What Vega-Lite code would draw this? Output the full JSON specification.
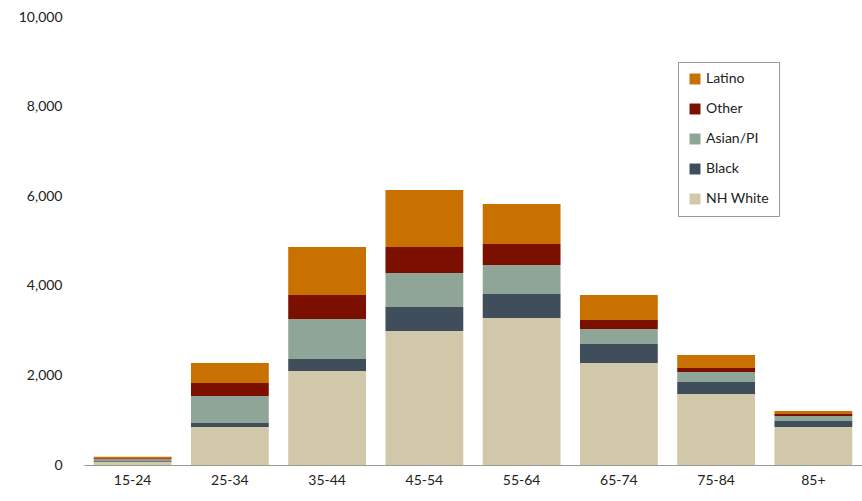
{
  "$schema": "https://vega.github.io/schema/vega-lite/v6.json",
  "width": 778,
  "height": 448,
  "padding": {"left": 18, "top": 10, "right": 8, "bottom": 5},
  "config": {"view": {"stroke": null}, "font": "Lato"},
  "data": {"values": [
    {"age":"15-24","g":"NH White","o":1,"v":70},{"age":"15-24","g":"Black","o":2,"v":20},{"age":"15-24","g":"Asian/PI","o":3,"v":40},{"age":"15-24","g":"Other","o":4,"v":20},{"age":"15-24","g":"Latino","o":5,"v":35},
    {"age":"25-34","g":"NH White","o":1,"v":848},{"age":"25-34","g":"Black","o":2,"v":90},{"age":"25-34","g":"Asian/PI","o":3,"v":600},{"age":"25-34","g":"Other","o":4,"v":290},{"age":"25-34","g":"Latino","o":5,"v":450},
    {"age":"35-44","g":"NH White","o":1,"v":2098},{"age":"35-44","g":"Black","o":2,"v":268},{"age":"35-44","g":"Asian/PI","o":3,"v":893},{"age":"35-44","g":"Other","o":4,"v":536},{"age":"35-44","g":"Latino","o":5,"v":1071},
    {"age":"45-54","g":"NH White","o":1,"v":2991},{"age":"45-54","g":"Black","o":2,"v":536},{"age":"45-54","g":"Asian/PI","o":3,"v":759},{"age":"45-54","g":"Other","o":4,"v":580},{"age":"45-54","g":"Latino","o":5,"v":1272},
    {"age":"55-64","g":"NH White","o":1,"v":3281},{"age":"55-64","g":"Black","o":2,"v":536},{"age":"55-64","g":"Asian/PI","o":3,"v":647},{"age":"55-64","g":"Other","o":4,"v":469},{"age":"55-64","g":"Latino","o":5,"v":893},
    {"age":"65-74","g":"NH White","o":1,"v":2277},{"age":"65-74","g":"Black","o":2,"v":424},{"age":"65-74","g":"Asian/PI","o":3,"v":335},{"age":"65-74","g":"Other","o":4,"v":201},{"age":"65-74","g":"Latino","o":5,"v":558},
    {"age":"75-84","g":"NH White","o":1,"v":1585},{"age":"75-84","g":"Black","o":2,"v":268},{"age":"75-84","g":"Asian/PI","o":3,"v":223},{"age":"75-84","g":"Other","o":4,"v":89},{"age":"75-84","g":"Latino","o":5,"v":290},
    {"age":"85+","g":"NH White","o":1,"v":848},{"age":"85+","g":"Black","o":2,"v":134},{"age":"85+","g":"Asian/PI","o":3,"v":112},{"age":"85+","g":"Other","o":4,"v":44},{"age":"85+","g":"Latino","o":5,"v":67}
  ]},
  "mark": {"type": "bar"},
  "encoding": {
    "x": {"field": "age", "type": "nominal", "sort": null, "title": null,
      "scale": {"paddingInner": 0.2, "paddingOuter": 0.1},
      "axis": {"labelAngle": 0, "labelFontSize": 14, "labelColor": "#222", "domainColor": "#999", "ticks": false, "labelPadding": 8}},
    "y": {"field": "v", "type": "quantitative", "stack": "zero", "title": null,
      "scale": {"domain": [0, 10000]},
      "axis": {"values": [0,2000,4000,6000,8000,10000], "format": ",.0f", "grid": false, "domain": false, "ticks": false, "labelFontSize": 14, "labelColor": "#222", "labelPadding": 22}},
    "color": {"field": "g", "type": "nominal", "title": null,
      "scale": {"domain": ["Latino","Other","Asian/PI","Black","NH White"], "range": ["#C87000","#7B0F00","#8FA598","#3F4E5A","#D0C8A8"]},
      "legend": {"orient": "none", "legendX": 594, "legendY": 45, "symbolType": "square", "symbolSize": 120, "labelFontSize": 14, "labelColor": "#222", "rowPadding": 16, "padding": 10, "strokeColor": "#999", "symbolStrokeWidth": 0}},
    "order": {"field": "o", "type": "quantitative"}
  }
}
